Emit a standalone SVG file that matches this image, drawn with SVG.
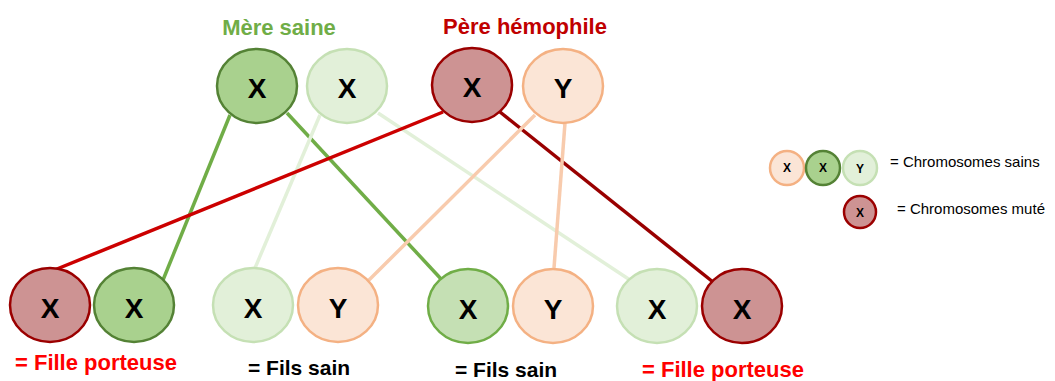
<svg xmlns="http://www.w3.org/2000/svg" width="1055" height="381" viewBox="0 0 1055 381">
<style>
.lbl{font-family:"Liberation Sans",Arial,sans-serif;font-weight:bold;}
.chr{font-family:"Liberation Sans",Arial,sans-serif;font-weight:bold;font-size:28px;text-anchor:middle;fill:#000;}
.chs{font-family:"Liberation Sans",Arial,sans-serif;font-weight:bold;font-size:12px;text-anchor:middle;fill:#000;}
.leg{font-family:"Liberation Sans",Arial,sans-serif;font-size:15px;fill:#000;}
.dg{fill:#a9d18e;stroke:#548235;stroke-width:2.5;}
.lg{fill:#e2f0d9;stroke:#c5e0b4;stroke-width:2.5;}
.mg{fill:#c5e0b4;stroke:#70ad47;stroke-width:2.5;}
.rd{fill:#cd9393;stroke:#9b0000;stroke-width:2.5;}
.pc{fill:#fbe5d6;stroke:#f4b183;stroke-width:2.5;}
.ln{fill:none;stroke-width:3.5;}
</style>
<rect width="1055" height="381" fill="#fff"/>
<g id="connectors">
<line class="ln" x1="230" y1="115" x2="163" y2="280" stroke="#70ad47"/>
<line class="ln" x1="287" y1="113" x2="442" y2="280" stroke="#70ad47"/>
<line class="ln" x1="320" y1="115" x2="255" y2="268" stroke="#e2f0d9"/>
<line class="ln" x1="378" y1="113" x2="630" y2="280" stroke="#e2f0d9"/>
<line class="ln" x1="443" y1="112" x2="52" y2="271" stroke="#cc0000"/>
<line class="ln" x1="500" y1="112" x2="713" y2="282" stroke="#990000"/>
<line class="ln" x1="535" y1="115" x2="367" y2="282" stroke="#f8cbad"/>
<line class="ln" x1="565" y1="123" x2="554" y2="268" stroke="#f8cbad"/>
</g>
<g id="title-mere"><text class="lbl" x="279" y="35" font-size="22" fill="#70ad47" text-anchor="middle">Mère saine</text></g>
<g id="title-pere"><text class="lbl" x="525" y="34" font-size="22" fill="#c00000" text-anchor="middle">Père hémophile</text></g>
<g id="mere-x1"><ellipse class="dg" cx="257" cy="86" rx="40" ry="37"/><text class="chr" x="257" y="98">X</text></g>
<g id="mere-x2"><ellipse class="lg" cx="347" cy="86" rx="40" ry="37"/><text class="chr" x="347" y="98">X</text></g>
<g id="pere-x"><ellipse class="rd" cx="472" cy="85" rx="40" ry="37"/><text class="chr" x="472" y="97">X</text></g>
<g id="pere-y"><ellipse class="pc" cx="563" cy="86" rx="40" ry="37"/><text class="chr" x="563" y="98">Y</text></g>
<g id="enf1-x-pere"><ellipse class="rd" cx="50" cy="305" rx="40" ry="37"/><text class="chr" x="50" y="318">X</text></g>
<g id="enf1-x-mere"><ellipse class="dg" cx="134" cy="305" rx="40" ry="37"/><text class="chr" x="134" y="318">X</text></g>
<g id="enf2-x-mere"><ellipse class="lg" cx="253" cy="305" rx="40" ry="37"/><text class="chr" x="253" y="318">X</text></g>
<g id="enf2-y-pere"><ellipse class="pc" cx="338" cy="305" rx="40" ry="37"/><text class="chr" x="338" y="318">Y</text></g>
<g id="enf3-x-mere"><ellipse class="mg" cx="468" cy="306" rx="40" ry="37"/><text class="chr" x="468" y="319">X</text></g>
<g id="enf3-y-pere"><ellipse class="pc" cx="553" cy="306" rx="40" ry="37"/><text class="chr" x="553" y="319">Y</text></g>
<g id="enf4-x-mere"><ellipse class="lg" cx="657" cy="306" rx="40" ry="37"/><text class="chr" x="657" y="319">X</text></g>
<g id="enf4-x-pere"><ellipse class="rd" cx="742" cy="306" rx="40" ry="37"/><text class="chr" x="742" y="319">X</text></g>
<g id="label1"><text class="lbl" x="15" y="370" font-size="22" fill="#ff0000">= Fille porteuse</text></g>
<g id="label2"><text class="lbl" x="248" y="375" font-size="21" fill="#000">= Fils sain</text></g>
<g id="label3"><text class="lbl" x="455" y="377" font-size="21" fill="#000">= Fils sain</text></g>
<g id="label4"><text class="lbl" x="642" y="377" font-size="22" fill="#ff0000">= Fille porteuse</text></g>
<g id="legend-sains">
<circle class="pc" cx="787" cy="168" r="17"/><text class="chs" x="787" y="172">X</text>
<circle class="dg" cx="823" cy="168" r="17"/><text class="chs" x="823" y="172">X</text>
<circle class="lg" cx="860" cy="168" r="17"/><text class="chs" x="860" y="173">Y</text>
<text class="leg" x="890" y="167">= Chromosomes sains</text>
</g>
<g id="legend-mute">
<circle class="rd" cx="860" cy="212" r="16"/><text class="chs" x="860" y="217">X</text>
<text class="leg" x="897" y="214">= Chromosomes muté</text>
</g>
</svg>
